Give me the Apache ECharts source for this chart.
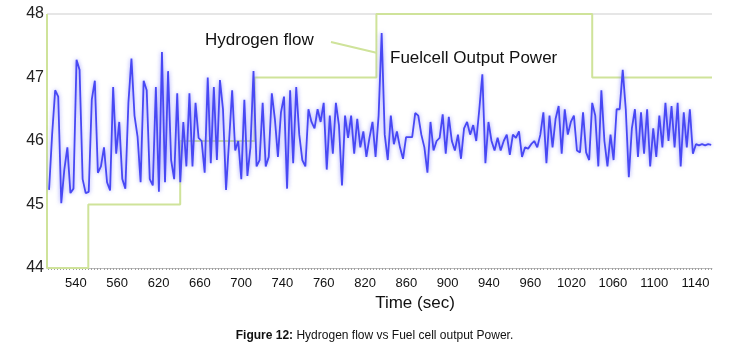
<!DOCTYPE html>
<html>
<head>
<meta charset="utf-8">
<title>Hydrogen flow vs Fuel cell output Power</title>
<script src="https://cdn.jsdelivr.net/npm/echarts@6/dist/echarts.min.js"></script>
<style>
  html, body { margin: 0; padding: 0; background: #fff; }
  #chart { width: 749px; height: 342px; }
</style>
</head>
<body>
<div id="chart"></div>
<script>
// x axis: time (sec); tick labels are printed as in the figure
const tickValues = [540, 580, 620, 660, 700, 740, 780, 820, 860, 900, 940, 980, 1020, 1060, 1100, 1140]
const tickLabels = ['540', '560', '620', '660', '700', '740', '760', '820', '860', '900', '940', '960', '1020', '1060', '1100', '1140']

// hydrogen flow steps [time, value]
const hydrogenFlow = [
  [512, 48], [512, 44], [552, 44], [552, 45], [641, 45], [641, 46],
  [713, 46], [713, 47], [831, 47], [831, 48], [1040, 48], [1040, 47], [1156, 47]
]

// fuel cell output power, sampled from t0 every dt seconds
const powerT0 = 514
const powerDt = 2.955
const powerValues = [
  45.23, 46.1, 46.8, 46.7, 45.02, 45.55, 45.9, 45.18, 45.25, 47.28,
  47.12, 45.4, 45.18, 45.2, 46.65, 46.95, 45.5, 45.6, 45.9, 45.35,
  45.22, 46.85, 45.8, 46.3, 45.4, 45.25, 46.6, 47.3, 46.4, 46.07,
  45.35, 46.95, 46.8, 45.4, 45.3, 46.85,
  45.2, 47.4, 45.35, 47.1, 45.7, 45.4, 46.75, 45.35, 46.3, 45.6,
  46.75, 45.6, 46.6, 46.05, 46.0, 45.5, 47.0, 45.65, 46.85, 45.7,
  46.96, 46.5, 45.23, 46.0, 46.8, 45.85, 46.0, 45.4, 46.65, 45.45,
  45.9, 47.1, 45.6, 45.7, 46.6, 45.6,
  45.75, 46.75, 46.35, 45.75, 46.45, 46.7, 45.25, 46.8, 45.65, 46.85,
  46.1, 45.7, 45.6, 46.5, 46.3, 46.2, 46.5, 46.3, 46.6, 45.55,
  46.4, 45.8, 46.6, 46.25, 45.3, 46.4, 46.05, 46.4, 45.8, 46.35,
  45.9, 46.15, 45.75, 46.05,
  46.3, 45.75, 46.4, 47.7, 46.1, 45.7, 46.4, 45.95, 46.15, 45.9,
  45.72, 46.06, 46.06, 46.06, 46.44, 46.4, 46.1, 45.9, 45.5, 46.3,
  45.85, 46.0, 46.05, 46.42, 45.8, 46.38, 46.0, 45.85, 46.1, 45.72,
  46.2, 46.3, 46.1, 46.25, 46.0, 46.5, 47.05, 45.65, 46.3,
  46.0, 45.85, 46.05, 45.85, 46.0, 46.1, 45.78, 46.1, 46.05, 46.15,
  45.75, 45.9, 45.88, 45.95, 46.0, 45.9, 46.1, 46.45, 45.65, 46.4,
  45.9, 46.35, 46.55, 45.8, 46.5, 46.1, 46.3, 46.4, 45.85, 45.82,
  46.45, 45.82, 45.7, 46.6, 46.4, 45.6,
  46.8, 46.0, 45.6, 46.1, 45.7, 46.5, 46.5, 47.12, 46.5, 45.43,
  46.2, 46.5, 45.75, 46.45, 45.8, 46.5, 45.6, 46.2, 45.75, 46.4,
  45.9, 46.6, 46.0, 46.55, 45.9, 46.6, 45.6, 46.45, 45.9, 46.5,
  45.8, 45.95, 45.93, 45.95, 45.93, 45.95, 45.94
]

const powerData = powerValues.map((v, i) => [powerT0 + i * powerDt, v])

// small ticks along the time axis
const minorTicks = []
for (let t = 513; t <= 1155; t += 3) minorTicks.push(t)

const myChart = echarts.init(document.getElementById('chart'))

const option = {
  animation: false,
  textStyle: { fontFamily: 'Liberation Sans, Arial, sans-serif' },
  title: {
    text: '{b|Figure 12:} Hydrogen flow vs Fuel cell output Power.',
    left: 'center',
    top: 325,
    textStyle: {
      fontSize: 12,
      fontWeight: 'normal',
      color: '#111',
      rich: { b: { fontSize: 12, fontWeight: 'bold', color: '#111' } }
    }
  },
  grid: { left: 47, right: 37, top: 14, bottom: 74 },
  xAxis: {
    type: 'value',
    min: 512,
    max: 1156,
    name: 'Time (sec)',
    nameLocation: 'middle',
    nameGap: 22,
    nameTextStyle: { fontSize: 17, color: '#111', padding: [0, 0, 0, 71] },
    axisLine: { lineStyle: { color: '#bdbdbd', width: 1 } },
    axisTick: {
      customValues: minorTicks,
      length: 2,
      lineStyle: { color: '#a0a0a0' }
    },
    axisLabel: {
      customValues: tickValues,
      margin: 9,
      fontSize: 13,
      color: '#111',
      formatter: (v) => {
        const k = tickValues.findIndex(t => Math.abs(t - v) < 0.5)
        return k >= 0 ? tickLabels[k] : ''
      }
    },
    splitLine: { show: false }
  },
  yAxis: {
    type: 'value',
    min: 44,
    max: 48,
    interval: 1,
    axisLine: { show: false },
    axisTick: { show: false },
    axisLabel: { fontSize: 16, color: '#222', margin: 3 },
    splitLine: {
      show: true,
      lineStyle: { color: ['rgba(0,0,0,0)', 'rgba(0,0,0,0)', 'rgba(0,0,0,0)', 'rgba(0,0,0,0)', '#e6e6e6'], width: 2 }
    }
  },
  series: [
    {
      name: 'Hydrogen flow',
      type: 'line',
      data: hydrogenFlow,
      symbol: 'none',
      z: 1,
      lineStyle: { color: '#cfe39a', width: 2 },
      markLine: {
        silent: true,
        symbol: 'none',
        label: { show: false },
        lineStyle: { color: '#cfe39a', width: 2, type: 'solid' },
        data: [[{ coord: [787, 47.56] }, { coord: [831, 47.39] }]]
      }
    },
    {
      name: 'Fuelcell Output Power',
      type: 'line',
      data: powerData,
      symbol: 'none',
      z: 3,
      lineStyle: {
        color: '#4848f4',
        width: 1.8,
        shadowColor: 'rgba(130,130,255,0.8)',
        shadowBlur: 4
      }
    }
  ],
  graphic: [
    {
      type: 'text',
      left: 205,
      top: 32,
      style: { text: 'Hydrogen flow', fontSize: 17, fill: '#111', fontFamily: 'Liberation Sans, Arial, sans-serif' }
    },
    {
      type: 'text',
      left: 390,
      top: 50,
      style: { text: 'Fuelcell Output Power', fontSize: 17, fill: '#111', fontFamily: 'Liberation Sans, Arial, sans-serif' }
    }
  ]
}

myChart.setOption(option)
</script>
</body>
</html>
